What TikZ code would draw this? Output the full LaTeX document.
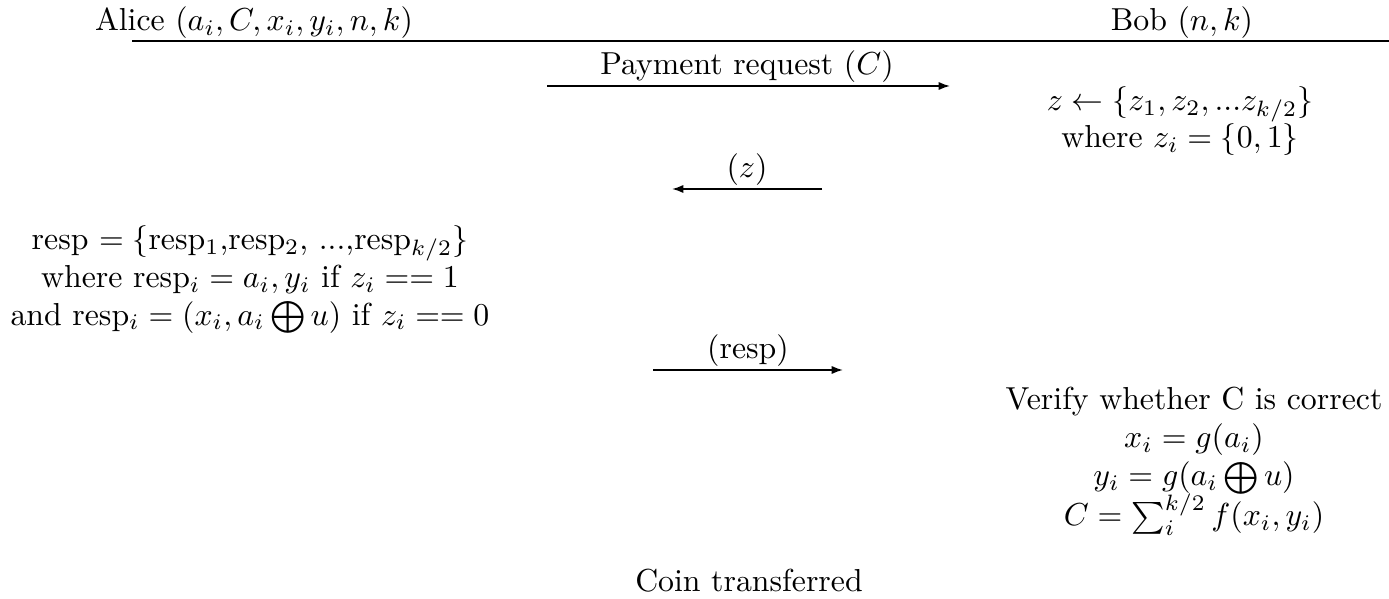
\documentclass[tikz,border=0pt]{standalone}
\usetikzlibrary{arrows.meta}
\begin{document}
\begin{tikzpicture}[x=0.3145pt,y=-0.3145pt,
  txt/.style={anchor=base,inner sep=0pt,outer sep=0pt},
  msg/.style={line width=0.5pt,-{Latex[length=3.6pt,width=2.6pt]}},
  rule/.style={line width=0.6pt}]
\useasboundingbox (0,0) rectangle (1389,599);
% headers
\node[txt] (alice) at (254,31) {Alice $(a_i, C, x_i, y_i, n, k)$};
\node[txt] (bob) at (1182,31) {Bob $(n, k)$};
\coordinate (hl) at (132,41);
\coordinate (hr) at (1389,41);
\draw[rule] (hl) -- (hr);
% payment request
\node[txt] (pay) at (747,75) {Payment request $(C)$};
\coordinate (p1) at (547,86);
\coordinate (p2) at (950,86);
\draw[msg] (p1) -- (p2);
% Bob challenge
\node[txt] (ch1) at (1180,111) {$z \leftarrow \{z_1, z_2, ...z_{k/2}\}$};
\node[txt] (ch2) at (1180,148) {where $z_i = \{0,1\}$};
% z message
\node[txt] (zl) at (747,178) {$(z)$};
\coordinate (z1) at (822,189);
\coordinate (z2) at (672,189);
\draw[msg] (z1) -- (z2);
% Alice response
\node[txt] (r1) at (250,250) {resp $=\{$resp$_1$,resp$_2$, ...,resp$_{k/2}\}$};
\node[txt] (r2) at (250,288) {where resp$_i = a_i, y_i$ if $z_i == 1$};
\node[txt] (r3) at (250,325) {and resp$_i = (x_i, a_i \bigoplus u)$ if $z_i == 0$};
% resp message
\node[txt] (rl) at (748,359) {(resp)};
\coordinate (q1) at (653,370);
\coordinate (q2) at (843,370);
\draw[msg] (q1) -- (q2);
% Bob verification
\node[txt] (v1) at (1194,410) {Verify whether C is correct};
\node[txt] (v2) at (1194,448) {$x_i = g(a_i)$};
\node[txt] (v3) at (1194,486) {$y_i = g(a_i \bigoplus u)$};
\node[txt] (v4) at (1194,526) {$C = \sum_i^{k/2} f(x_i, y_i)$};
% result
\node[txt] (coin) at (749,592) {Coin transferred};
\end{tikzpicture}
\end{document}
